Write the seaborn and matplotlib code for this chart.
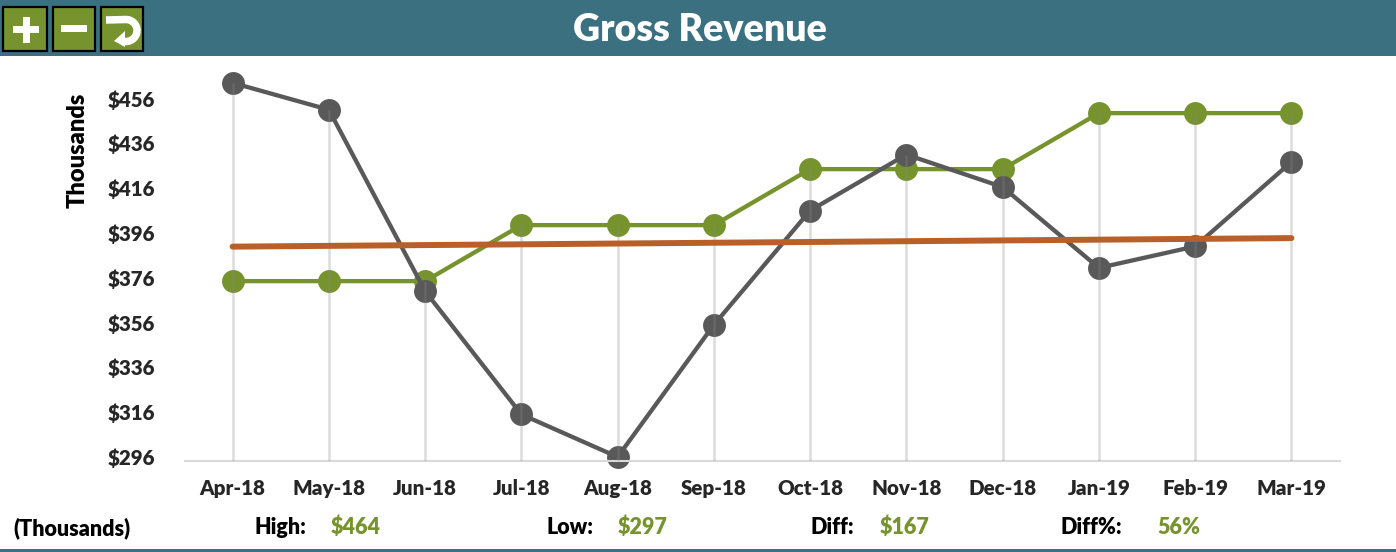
import numpy as np
import pandas as pd
import matplotlib
matplotlib.use('Agg')
import matplotlib.pyplot as plt
from matplotlib.patches import Polygon, Rectangle
from matplotlib.transforms import ScaledTranslation
import seaborn as sns

months = ['Apr-18', 'May-18', 'Jun-18', 'Jul-18', 'Aug-18', 'Sep-18',
          'Oct-18', 'Nov-18', 'Dec-18', 'Jan-19', 'Feb-19', 'Mar-19']
actual = [464, 452, 371, 316, 297, 356, 407, 432, 417.5, 381.4, 391, 428.7]
target = [375.5, 375.5, 375.5, 400.5, 400.5, 400.5, 425.5, 425.5, 425.5,
          450.5, 450.5, 450.5]
tick_values = [296, 316, 336, 356, 376, 396, 416, 436, 456]
tick_labels = ['$296', '$316', '$336', '$356', '$376', '$396', '$416', '$436', '$456']

TEAL = '#3b7080'
GREEN = '#76932d'
GRAY = '#595959'
ORANGE = '#b9602a'
DPI = 100
W, H = 1396, 552


def draw_frame(fig):
    """
    Adds a full-figure overlay in pixel coordinates with the header band,
    the three buttons, the title and the summary row.
    """
    ov = fig.add_axes([0, 0, 1, 1], zorder=5)
    ov.set_xlim(0, W)
    ov.set_ylim(H, 0)
    ov.axis('off')
    ov.patch.set_alpha(0)

    ov.add_patch(Rectangle((0, 0), W, 56, color=TEAL, lw=0))
    ov.add_patch(Rectangle((0, 549), W, 3, color=TEAL, lw=0))
    ov.text(700, 30, 'Gross Revenue', color='white', fontsize=27,
            fontweight='heavy', ha='center', va='center')

    for x0, x1 in [(3, 47), (53, 95), (101, 143)]:
        ov.add_patch(Rectangle((x0, 7), x1 - x0, 44, facecolor=GREEN,
                               edgecolor='black', lw=1.6))
    # plus and minus
    ov.add_patch(Rectangle((13, 26), 26, 7, color='white', lw=0))
    ov.add_patch(Rectangle((22.5, 17), 7, 26, color='white', lw=0))
    ov.add_patch(Rectangle((61, 25), 26, 7, color='white', lw=0))
    # return arrow
    t = np.linspace(np.pi / 2, -np.pi / 2, 30)
    arc_x = np.r_[106, 126 + 11 * np.cos(t), 122]
    arc_y = np.r_[20, 30.5 - 11 * np.sin(t), 41.5]
    ov.plot(arc_x, arc_y, color='white', lw=5.4, solid_capstyle='butt')
    ov.add_patch(Polygon([[114, 41], [125, 31], [125, 47]], color='white', lw=0))

    items = [(13, 528, '(Thousands)', 'black'), (254, 527, 'High:', 'black'),
             (331, 527, '$464', GREEN), (547, 527, 'Low:', 'black'),
             (618, 527, '$297', GREEN), (811, 527, 'Diff:', 'black'),
             (880, 527, '$167', GREEN), (1060, 527, 'Diff%:', 'black'),
             (1157, 527, '56%', GREEN)]
    for x, y, label, color in items:
        ov.text(x, y, label, color=color, fontsize=15.5, fontweight='heavy',
                ha='left', va='center')
    ov.text(78, 150, 'Thousands', color='black', fontsize=17, fontweight='heavy',
            rotation=90, ha='center', va='center')


def draw_chart(ax):
    """
    Plots the target and actual lines, the drop lines and the trend of the
    actual values.
    """
    df = pd.DataFrame({'pos': np.arange(len(months)), 'actual': actual,
                       'target': target})
    common = dict(marker='o', markersize=16.5, markeredgewidth=0, linewidth=3.1,
                  clip_on=False, zorder=2)
    sns.lineplot(x='pos', y='target', data=df, color=GREEN, ax=ax, **common)
    sns.lineplot(x='pos', y='actual', data=df, color=GRAY, ax=ax, **common)
    ax.set_ylim(295.2, 476)
    ax.vlines(df['pos'], 295.2, df[['actual', 'target']].max(axis=1),
              color='#888888', alpha=0.29, lw=1.8, zorder=3)
    sns.regplot(x='pos', y='actual', data=df, scatter=False, ci=None, ax=ax,
                line_kws={'color': ORANGE, 'lw': 4.3,
                          'solid_capstyle': 'round', 'zorder': 4,
                          'clip_on': False})

    ax.set_xlim(-0.5, 11.5)
    ax.set_ylim(295.2, 476)
    ax.set_xticks(df['pos'], months)
    ax.set_yticks(tick_values, tick_labels)
    ax.set_xlabel('')
    ax.set_ylabel('')
    ax.tick_params(axis='both', length=0, labelsize=14.8)
    ax.tick_params(axis='x', pad=13)
    ax.tick_params(axis='y', pad=21.5)
    for label in ax.get_xticklabels() + ax.get_yticklabels():
        label.set_fontweight('heavy')
    # the labels sit slightly above their true axis values in the original
    shift = ScaledTranslation(0, 2.5 / DPI, ax.figure.dpi_scale_trans)
    for label in ax.get_yticklabels():
        label.set_transform(label.get_transform() + shift)
    for side in ['top', 'left', 'right']:
        ax.spines[side].set_visible(False)
    ax.spines['bottom'].set_color('#d9d9d9')
    ax.spines['bottom'].set_linewidth(1.5)


def main():
    sns.set_style('white')
    plt.rcParams['font.family'] = ['Lato', 'DejaVu Sans']
    fig = plt.figure(figsize=(W / DPI, H / DPI), dpi=DPI)
    ax = fig.add_axes([184.5 / W, (H - 461) / H, 1155 / W, 405 / H])
    draw_chart(ax)
    draw_frame(fig)
    fig.savefig('out.png', dpi=DPI)


if __name__ == '__main__':
    main()
